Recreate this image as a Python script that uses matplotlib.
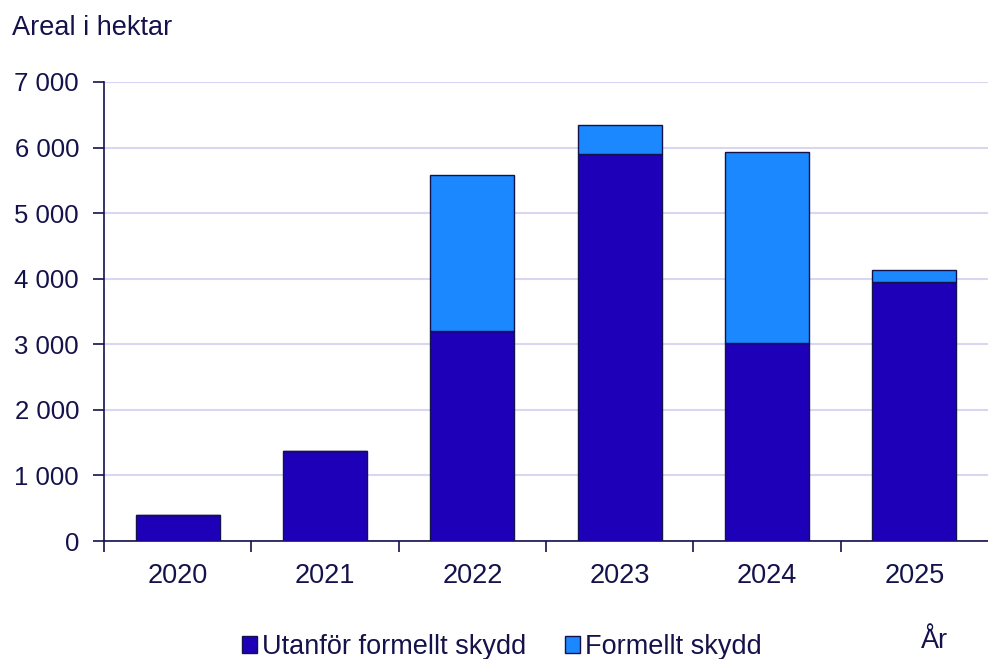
import matplotlib
matplotlib.use("Agg")
import matplotlib.pyplot as plt
import numpy as np
from matplotlib.ticker import FuncFormatter

years = ["2020", "2021", "2022", "2023", "2024", "2025"]
utanfor = [390, 1370, 3200, 5900, 3020, 3950]
formellt = [0, 0, 2380, 440, 2910, 180]

dark = "#1f00b9"
light = "#1b88ff"
navy = "#14124a"
grid_c = "#d8d6f0"

plt.rcParams["font.family"] = ["Liberation Sans", "DejaVu Sans"]

fig = plt.figure(figsize=(9.88, 6.59), dpi=100)
ax = fig.add_axes([0.1053, 0.179, 0.8947, 0.6966])

x = np.arange(len(years))
w = 0.57
ax.bar(x, utanfor, width=w, color=dark, edgecolor=navy, linewidth=1.0,
       label="Utanför formellt skydd", zorder=3)
ax.bar(x, formellt, width=w, bottom=utanfor, color=light, edgecolor=navy,
       linewidth=1.0, label="Formellt skydd", zorder=3)

ax.set_xlim(-0.5, len(years) - 0.5)
ax.set_ylim(0, 7000)
ax.set_yticks(np.arange(0, 7001, 1000))
ax.yaxis.set_major_formatter(FuncFormatter(lambda v, p: f"{int(v):,}".replace(",", " ")))
ax.grid(axis="y", color=grid_c, linewidth=1.5, zorder=0)

ax.set_xticks(x)
ax.set_xticklabels(years)
# category boundary ticks (none at the far right end)
ax.set_xticks(np.arange(-0.5, len(years) - 1, 1.0), minor=True)
ax.tick_params(axis="x", which="major", length=0, pad=16, labelsize=19.5, colors=navy)
ax.tick_params(axis="x", which="minor", length=8, width=1.2, color=navy, direction="out")
ax.tick_params(axis="y", length=8, width=1.2, color=navy, labelsize=18.5,
               labelcolor=navy, pad=10, direction="out")

for s in ["top", "right"]:
    ax.spines[s].set_visible(False)
for s in ["left", "bottom"]:
    ax.spines[s].set_color(navy)
    ax.spines[s].set_linewidth(1.2)

fig.text(0.012, 0.958, "Areal i hektar", fontsize=19.5, color=navy, ha="left", va="center")
fig.text(0.946, 0.028, "År", fontsize=19.5, color=navy, ha="center", va="center")

leg = fig.legend(loc="center", bbox_to_anchor=(0.508, 0.018), ncol=2, frameon=False,
                 fontsize=19.5, handlelength=0.55, handleheight=0.6, handletextpad=0.2,
                 columnspacing=1.4)
for t in leg.get_texts():
    t.set_color(navy)

fig.savefig("out.png", dpi=100)
